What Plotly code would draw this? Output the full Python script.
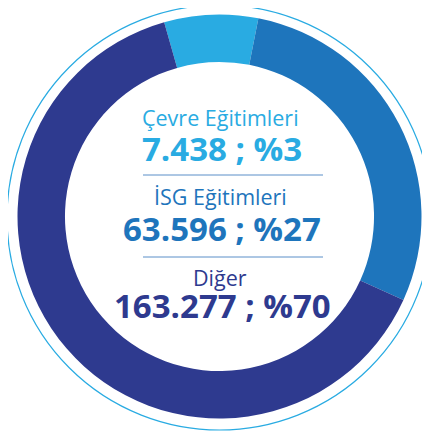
import plotly.graph_objects as go

# Data
categories = ["Çevre Eğitimleri", "İSG Eğitimleri", "Diğer"]
counts_text = ["7.438", "63.596", "163.277"]
percent_text = ["%3", "%27", "%70"]
# arc shares as drawn in the picture (read from the ring)
arc_shares = [7.5, 28.7, 63.8]
colors = ["#29ABE2", "#1E75BC", "#2E3A8F"]

OFF = 8  # page body margin
W, H = 422, 423

def px(x):
    return (x - OFF) / W

def py(y):
    return (H - (y - OFF)) / H

fig = go.Figure()
fig.add_trace(go.Pie(
    labels=categories,
    values=arc_shares,
    hole=0.765,
    sort=False,
    direction="clockwise",
    rotation=-15.9,
    marker=dict(colors=colors, line=dict(width=0)),
    textinfo="none",
    hoverinfo="label",
    showlegend=False,
    domain=dict(x=[px(17.5), px(421.5)], y=[py(418.5), py(14.5)]),
))

# outer thin ring
fig.add_shape(type="circle", xref="paper", yref="paper",
              x0=px(7), x1=px(432), y0=py(430), y1=py(5),
              line=dict(color="#29ABE2", width=1.2), fillcolor="rgba(0,0,0,0)")

# separator lines
for yy in [175, 257]:
    fig.add_shape(type="line", xref="paper", yref="paper",
                  x0=px(143), x1=px(323), y0=py(yy), y1=py(yy),
                  line=dict(color="#5A8FC8", width=1))

title_y = [117.5, 196.5, 277.5]
value_y = [148.5, 228.5, 305.5]
for i, cat in enumerate(categories):
    fig.add_annotation(x=px(220), y=py(title_y[i]), xref="paper", yref="paper",
                       text=cat, showarrow=False, xanchor="center", yanchor="middle",
                       font=dict(family="Open Sans", size=21.5, color=colors[i]))
    fig.add_annotation(x=px(222), y=py(value_y[i]), xref="paper", yref="paper",
                       text="<b>%s ; %s</b>" % (counts_text[i], percent_text[i]),
                       showarrow=False, xanchor="center", yanchor="middle",
                       font=dict(family="Open Sans", size=33, color=colors[i]))

fig.update_layout(width=W, height=H, margin=dict(l=0, r=0, t=0, b=0),
                  paper_bgcolor="white", plot_bgcolor="white")

fig.write_html("out.html")
